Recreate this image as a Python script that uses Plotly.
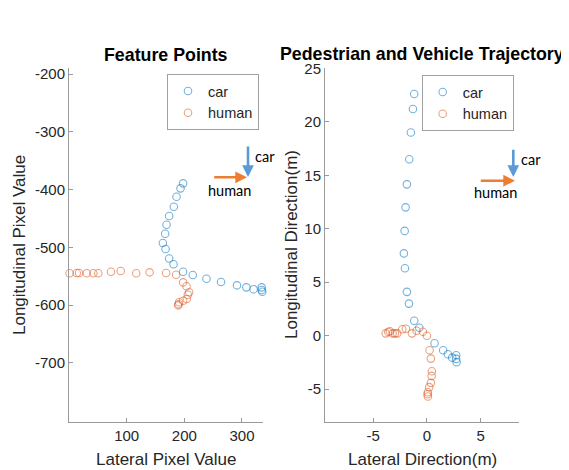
import plotly.graph_objects as go

# ---------------- data ----------------
# Feature Points (pixel values)
car_px_x = [197.9, 193.4, 186.5, 181.8, 173.7, 169.2, 166.8, 162.8, 167.5, 173.7, 181.3,
            197.9, 214.7, 238.4, 263.7, 291.3, 307.6, 320.2, 334.1, 334.1, 335.3]
car_px_y = [-389.1, -397.8, -412.3, -429.6, -445.7, -460.7, -476.3, -492.4, -502.8, -519.2, -529.2,
            -542.0, -547.8, -554.2, -559.9, -565.6, -569.1, -572.5, -569.1, -573.7, -576.6]
hum_px_x = [1.0, 13.5, 17.5, 30.8, 42.2, 50.9, 72.8, 89.6, 116.6, 139.8, 168.5,
            185.8, 197.9, 203.8, 208.3, 206.1, 204.3, 197.9, 191.0, 190.0, 189.3]
hum_px_y = [-544.8, -544.3, -544.3, -544.8, -544.8, -544.8, -542.0, -540.8, -544.8, -543.1, -544.3,
            -547.2, -560.4, -567.3, -577.7, -581.8, -589.3, -592.2, -595.0, -598.4, -600.2]

# Pedestrian and Vehicle Trajectory (metres)
car_m_x = [-1.18, -1.30, -1.49, -1.64, -1.86, -1.98, -2.07, -2.14, -2.04, -1.86,
           -1.67, -1.18, -0.71, 0.71, 1.51, 1.95, 2.35, 2.72, 2.72, 2.76]
car_m_y = [22.6, 21.2, 19.0, 16.5, 14.15, 12.0, 9.8, 7.7, 6.3, 4.1,
           3.0, 1.4, 0.75, -0.71, -1.36, -1.74, -2.05, -1.83, -2.17, -2.48]
hum_m_x = [-3.83, -3.59, -3.44, -3.18, -2.97, -2.76, -2.29, -1.95, -1.39, -0.96, -0.37,
           0.0, 0.25, 0.37, 0.46, 0.44, 0.37, 0.21, 0.09, 0.06, 0.09]
hum_m_y = [0.22, 0.35, 0.41, 0.22, 0.22, 0.22, 0.60, 0.65, 0.22, 0.47, 0.37,
           0.0, -1.36, -2.14, -3.32, -3.76, -4.41, -4.81, -5.28, -5.47, -5.69]

x1_ticks = [100, 200, 300]
y1_ticks = [-200, -300, -400, -500, -600, -700]
x2_ticks = [-5, 0, 5]
y2_ticks = [-5, 0, 5, 10, 15, 20, 25]

# ---------------- style ----------------
OFF = 8                      # page body margin of the html page
W, H = 569 - OFF, 470 - OFF
FONT = "Liberation Sans, Arial, sans-serif"
TXT = "#262626"
AXC = "#9a9a9a"
BLUE_M = "rgba(0,114,189,0.55)"
ORNG_M = "rgba(217,83,25,0.55)"
BLUE_A = "#5B9BD5"
ORNG_A = "#ED7D31"


def px(x):
    return (x - OFF) / W


def py(y):
    return 1 - (y - OFF) / H


def labels(vals):
    return [str(v) for v in vals]


fig = go.Figure()

def marker(c):
    return dict(symbol="circle-open", size=7.5, color=c, line=dict(width=1.1, color=c))

fig.add_trace(go.Scatter(x=car_px_x, y=car_px_y, mode="markers", name="car",
                         marker=marker(BLUE_M), xaxis="x", yaxis="y", legend="legend",
                         cliponaxis=False))
fig.add_trace(go.Scatter(x=hum_px_x, y=hum_px_y, mode="markers", name="human",
                         marker=marker(ORNG_M), xaxis="x", yaxis="y", legend="legend",
                         cliponaxis=False))
fig.add_trace(go.Scatter(x=car_m_x, y=car_m_y, mode="markers", name="car",
                         marker=marker(BLUE_M), xaxis="x2", yaxis="y2", legend="legend2",
                         cliponaxis=False))
fig.add_trace(go.Scatter(x=hum_m_x, y=hum_m_y, mode="markers", name="human",
                         marker=marker(ORNG_M), xaxis="x2", yaxis="y2", legend="legend2",
                         cliponaxis=False))

axis_common = dict(showgrid=False, zeroline=False, showline=True, linecolor=AXC, linewidth=1,
                   ticks="inside", ticklen=4, tickcolor=AXC, tickwidth=1,
                   tickfont=dict(family=FONT, size=15, color=TXT), automargin=False,
                   mirror=False, ticklabeloverflow="allow", tickmode="array")

ydom = [py(421.7), py(68.3)]
leg_common = dict(xanchor="left", yanchor="top", bgcolor="white", bordercolor="#a0a0a0",
                  borderwidth=1, font=dict(family=FONT, size=14.5, color=TXT), itemwidth=30,
                  tracegroupgap=0)
fig.update_layout(
    width=W, height=H,
    margin=dict(l=0, r=0, t=0, b=0),
    paper_bgcolor="white", plot_bgcolor="white",
    font=dict(family=FONT, color=TXT),
    xaxis=dict(domain=[px(69), px(263.3)], range=[0, 337], tickvals=x1_ticks,
               ticktext=labels(x1_ticks), anchor="y", **axis_common),
    yaxis=dict(domain=ydom, range=[-801.6, -190], tickvals=y1_ticks,
               ticktext=labels(y1_ticks), anchor="x", **axis_common),
    xaxis2=dict(domain=[px(325), px(518.7)], range=[-9.47, 8.53], tickvals=x2_ticks,
                ticktext=labels(x2_ticks), anchor="y2", **axis_common),
    yaxis2=dict(domain=ydom, range=[-8.04, 25], tickvals=y2_ticks,
                ticktext=labels(y2_ticks), anchor="x2", **axis_common),
    legend=dict(x=px(167), y=py(74), **leg_common),
    legend2=dict(x=px(421.7), y=py(75), **leg_common),
    showlegend=True,
)

ann = []
# titles
ann.append(dict(text="<b>Feature Points</b>", x=px(166), y=py(55), xref="paper", yref="paper",
                showarrow=False, font=dict(family=FONT, size=17.8, color="black"),
                xanchor="center", yanchor="middle"))
ann.append(dict(text="<b>Pedestrian and Vehicle Trajectory</b>", x=px(421.5), y=py(54),
                xref="paper", yref="paper", showarrow=False,
                font=dict(family=FONT, size=17.8, color="black"),
                xanchor="center", yanchor="middle"))
# axis labels
for t, x, y, ang in [("Lateral Pixel Value", 166, 459, 0),
                     ("Lateral Direction(m)", 422, 459, 0),
                     ("Longitudinal Pixel Value", 19, 245, -90),
                     ("Longitudinal Direction(m)", 291, 245, -90)]:
    ann.append(dict(text=t, x=px(x), y=py(y), xref="paper", yref="paper", showarrow=False,
                    textangle=ang, font=dict(family=FONT, size=17, color=TXT),
                    xanchor="center", yanchor="middle"))

# arrows and their labels
LBL = "Lato, Noto Sans, sans-serif"
def arrow(hx, hy, tx, ty, col):
    return dict(x=px(hx), y=py(hy), xref="paper", yref="paper", ax=tx - hx, ay=ty - hy,
                axref="pixel", ayref="pixel", showarrow=True, arrowhead=2, arrowsize=0.9,
                arrowwidth=2.6, arrowcolor=col, standoff=0, text="")

ann.append(arrow(248, 177, 248, 145, BLUE_A))
ann.append(arrow(247, 177.3, 212.7, 177.3, ORNG_A))
ann.append(arrow(513.3, 177, 513.3, 148.3, BLUE_A))
ann.append(arrow(515, 180.7, 479.3, 180.7, ORNG_A))
for t, x, y, xa in [("car", 253, 156.7, "left"), ("human", 229.3, 190.7, "center"),
                    ("car", 519, 159.3, "left"), ("human", 495.5, 192.7, "center")]:
    ann.append(dict(text=t, x=px(x), y=py(y), xref="paper", yref="paper", showarrow=False,
                    font=dict(family=LBL, size=14.5, color="black"),
                    xanchor=xa, yanchor="middle"))

fig.update_layout(annotations=ann)

fig.write_html("out.html")
